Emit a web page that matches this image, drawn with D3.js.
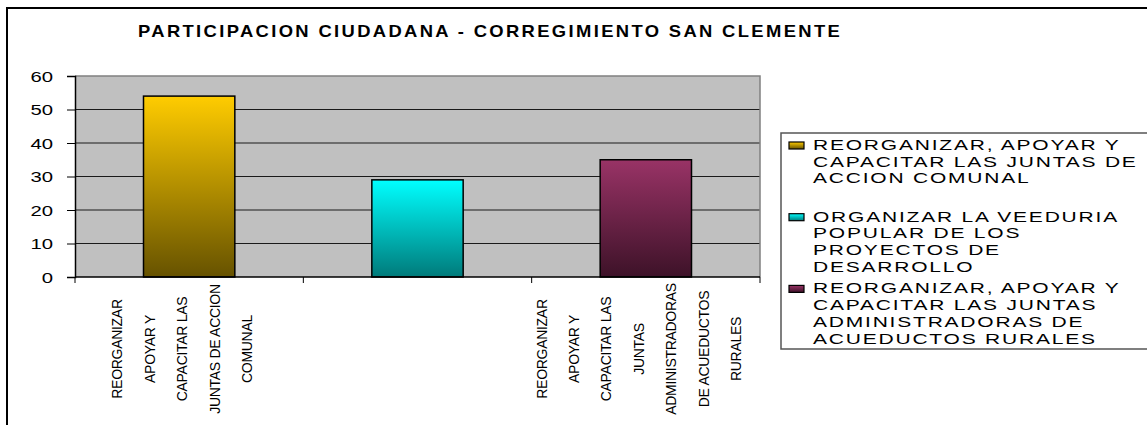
<!DOCTYPE html>
<html>
<head>
<meta charset="utf-8">
<script src="https://cdn.jsdelivr.net/npm/d3@7"></script>
<style>
  body { margin: 0; background: #fff; }
  text { font-family: Arial, "Liberation Sans", sans-serif; fill: #000; }
</style>
</head>
<body>
<svg></svg>
<script>
var title = 'PARTICIPACION CIUDADANA - CORREGIMIENTO SAN CLEMENTE';
var categories = ['cat1', 'cat2', 'cat3'];
var values = [54, 29, 35];
var axisLabelLines = [
  ['REORGANIZAR', 'APOYAR Y', 'CAPACITAR LAS', 'JUNTAS DE ACCION', 'COMUNAL'],
  [],
  ['REORGANIZAR', 'APOYAR Y', 'CAPACITAR LAS', 'JUNTAS', 'ADMINISTRADORAS', 'DE ACUEDUCTOS', 'RURALES']
];
var legendLines = [
  ['REORGANIZAR, APOYAR Y', 'CAPACITAR LAS JUNTAS DE', 'ACCION COMUNAL'],
  ['ORGANIZAR LA VEEDURIA', 'POPULAR DE LOS', 'PROYECTOS DE', 'DESARROLLO'],
  ['REORGANIZAR, APOYAR Y', 'CAPACITAR LAS JUNTAS', 'ADMINISTRADORAS DE', 'ACUEDUCTOS RURALES']
];
var yTicks = [0, 10, 20, 30, 40, 50, 60];
var barColors = [
  { top: '#ffcc00', bottom: '#665200' },
  { top: '#00ffff', bottom: '#007a7a' },
  { top: '#993366', bottom: '#3d1228' }
];

var W = 1147, H = 425;
var stretch = 1.45;
var plot = { left: 75, right: 760, top: 76, bottom: 277 };

var svg = d3.select('svg').attr('width', W).attr('height', H);

var defs = svg.append('defs');
barColors.forEach(function(c, i) {
  var grad = defs.append('linearGradient')
    .attr('id', 'grad' + i)
    .attr('x1', 0).attr('y1', 0).attr('x2', 0).attr('y2', 1);
  grad.append('stop').attr('offset', '0%').attr('stop-color', c.top);
  grad.append('stop').attr('offset', '100%').attr('stop-color', c.bottom);
});

// chart border (runs off the right and bottom edges)
svg.append('rect')
  .attr('x', 7).attr('y', 8)
  .attr('width', W + 20).attr('height', H + 20)
  .attr('fill', 'none')
  .attr('stroke', '#000')
  .attr('stroke-width', 2);

// title, spaced out to the reference width
var titleScale = 1.15;
var titleText = svg.append('text')
  .attr('font-size', 16)
  .attr('font-weight', 'bold')
  .text(title);
var natural = titleText.node().getComputedTextLength();
var spacing = (702 / titleScale - natural) / (title.length - 1);
titleText
  .attr('letter-spacing', spacing)
  .attr('transform', 'translate(138,37) scale(' + titleScale + ',1)');

var x = d3.scaleBand()
  .domain(categories)
  .range([plot.left, plot.right])
  .padding(0);
var y = d3.scaleLinear()
  .domain([0, 60])
  .range([plot.bottom, plot.top]);

// plot background
svg.append('rect')
  .attr('x', plot.left).attr('y', plot.top)
  .attr('width', plot.right - plot.left)
  .attr('height', plot.bottom - plot.top)
  .attr('fill', '#c0c0c0');

// gridlines
svg.append('g')
  .selectAll('line')
  .data(yTicks.filter(function(t) { return t > 0 && t < 60; }))
  .enter().append('line')
  .attr('x1', plot.left).attr('x2', plot.right)
  .attr('y1', function(d) { return y(d); })
  .attr('y2', function(d) { return y(d); })
  .attr('stroke', '#1a1a1a')
  .attr('stroke-width', 1);

// plot frame top and right
svg.append('path')
  .attr('d', 'M' + plot.left + ',' + plot.top + 'H' + plot.right + 'V' + plot.bottom)
  .attr('fill', 'none')
  .attr('stroke', '#808080')
  .attr('stroke-width', 1.5);

// bars
var barW = x.bandwidth() * 0.4;
svg.append('g')
  .selectAll('rect')
  .data(values)
  .enter().append('rect')
  .attr('x', function(d, i) { return x(categories[i]) + x.bandwidth() / 2 - barW / 2; })
  .attr('y', function(d) { return y(d); })
  .attr('width', barW)
  .attr('height', function(d) { return y(0) - y(d); })
  .attr('fill', function(d, i) { return 'url(#grad' + i + ')'; })
  .attr('stroke', '#000')
  .attr('stroke-width', 1.5);

// y axis
var yAxis = d3.axisLeft(y).tickValues(yTicks).tickSize(8).tickFormat('');
var yg = svg.append('g')
  .attr('transform', 'translate(' + plot.left + ',0)')
  .call(yAxis);
yg.select('.domain').attr('stroke', '#000').attr('stroke-width', 1.5);
yg.selectAll('.tick line').attr('stroke', '#000');
yg.selectAll('.tick').append('text')
  .attr('transform', 'translate(-22,0) scale(' + stretch + ',1)')
  .attr('text-anchor', 'end')
  .attr('dy', '0.36em')
  .attr('font-size', 14)
  .attr('fill', '#000')
  .text(function(d) { return d; });

// x axis
var xTickPos = categories.map(function(c) { return x(c); }).concat([plot.right]);
var xg = svg.append('g');
xg.append('line')
  .attr('x1', plot.left).attr('x2', plot.right)
  .attr('y1', plot.bottom).attr('y2', plot.bottom)
  .attr('stroke', '#000').attr('stroke-width', 1.5);
xg.selectAll('.xtick')
  .data(xTickPos)
  .enter().append('line')
  .attr('class', 'xtick')
  .attr('x1', function(d) { return d; }).attr('x2', function(d) { return d; })
  .attr('y1', plot.bottom).attr('y2', plot.bottom + 6)
  .attr('stroke', '#000');

// rotated category labels, one column per line
var lineGap = 32.4;
axisLabelLines.forEach(function(lines, i) {
  var cx = x(categories[i]) + x.bandwidth() / 2 - 2;
  var n = lines.length;
  svg.append('g')
    .selectAll('text')
    .data(lines)
    .enter().append('text')
    .attr('transform', function(d, j) {
      var bx = cx + (j - (n - 1) / 2) * lineGap;
      return 'translate(' + bx + ',349) rotate(-90)';
    })
    .attr('text-anchor', 'middle')
    .attr('font-size', 14)
    .attr('letter-spacing', -0.3)
    .text(function(d) { return d; });
});

// legend
var legendScale = 1.5;
var legend = svg.append('g');
legend.append('rect')
  .attr('x', 781).attr('y', 133)
  .attr('width', 400).attr('height', 216)
  .attr('fill', '#fff')
  .attr('stroke', '#555')
  .attr('stroke-width', 1.5);
var slot = 71.7;
legendLines.forEach(function(lines, i) {
  var base = 150 + i * slot;
  legend.append('rect')
    .attr('x', 789).attr('y', base - 8)
    .attr('width', 15).attr('height', 7)
    .attr('fill', 'url(#grad' + i + ')')
    .attr('stroke', '#000')
    .attr('stroke-width', 1.2);
  legend.selectAll('.l' + i)
    .data(lines)
    .enter().append('text')
    .attr('class', 'l' + i)
    .attr('transform', function(d, j) {
      return 'translate(813,' + (base + j * 16.7) + ') scale(' + legendScale + ',1)';
    })
    .attr('font-size', 14)
    .attr('letter-spacing', 1.2)
    .text(function(d) { return d; });
});
</script>
</body>
</html>
